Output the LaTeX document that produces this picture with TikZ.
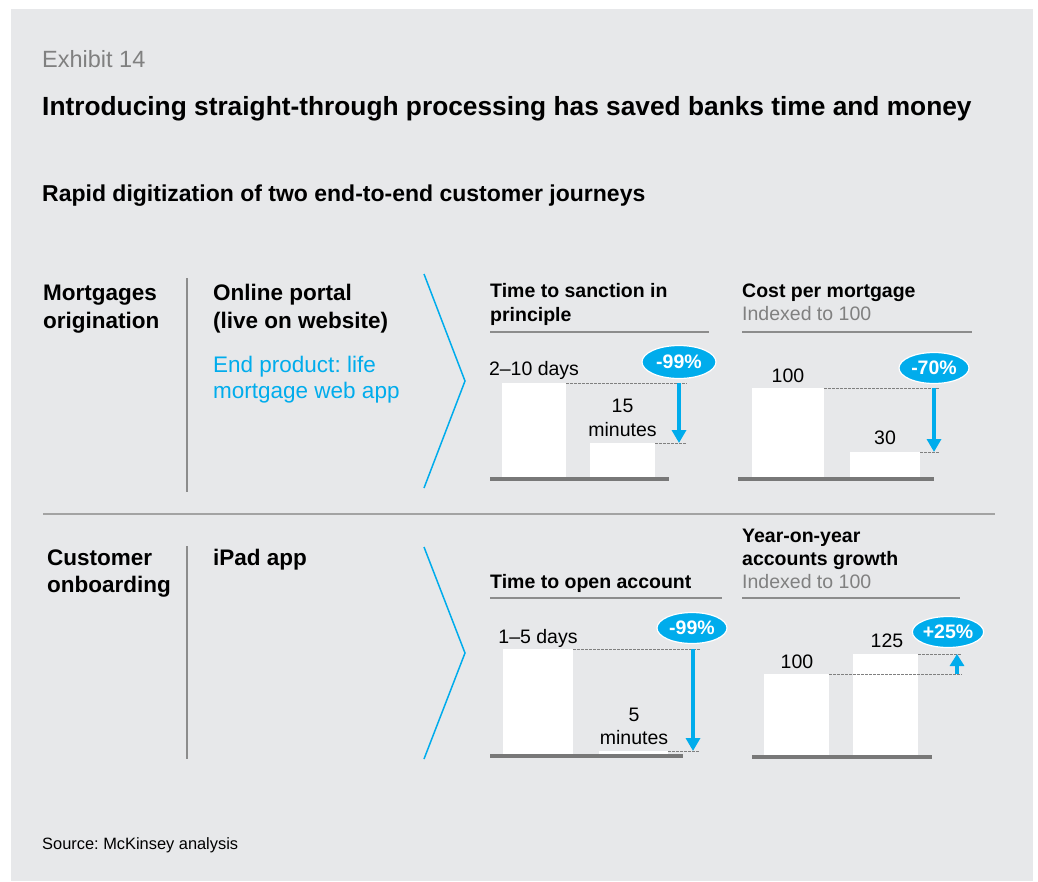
\documentclass[tikz,border=0pt]{standalone}
\usepackage{fontspec}
\setmainfont{Liberation Sans}
\usetikzlibrary{arrows.meta,shapes.geometric}

\definecolor{panelgray}{RGB}{231,232,234}
\definecolor{mckblue}{RGB}{0,172,236}
\definecolor{textgray}{RGB}{128,128,128}
\definecolor{rulegray}{RGB}{140,140,140}
\definecolor{axisgray}{RGB}{120,120,120}

\tikzset{
  txt/.style={anchor=base west, inner sep=0pt, align=left},
  exhibit/.style={txt, text=textgray, font=\fontsize{23.5}{28}\selectfont},
  headline/.style={txt, font=\bfseries\fontsize{26.3}{30}\selectfont},
  subhead/.style={txt, font=\bfseries\fontsize{23}{28}\selectfont},
  rowlabel/.style={txt, font=\bfseries\fontsize{22.5}{28}\selectfont},
  rownote/.style={txt, text=mckblue, font=\fontsize{22.5}{26.5}\selectfont},
  charttitle/.style={txt, font=\bfseries\fontsize{19.5}{24}\selectfont},
  chartnote/.style={txt, text=textgray, font=\fontsize{19.5}{24}\selectfont},
  barlabel/.style={anchor=base, inner sep=0pt, align=center, font=\fontsize{19.5}{24}\selectfont},
  badge/.style={ellipse, fill=mckblue, draw=white, line width=1.2pt, text=white,
    font=\bfseries\fontsize{19.5}{24}\selectfont, minimum width=72pt, minimum height=32pt, inner sep=0pt},
  bar/.style={fill=white},
  axisline/.style={draw=axisgray, line width=3.5pt},
  titlerule/.style={draw=rulegray, line width=1.5pt},
  guide/.style={draw=textgray, line width=0.8pt, dash pattern=on 2.5pt off 1.5pt},
  change/.style={draw=mckblue, line width=3.5pt, -{Triangle[width=14pt,length=13pt]}},
  chevron/.style={draw=mckblue, line width=1.5pt},
}

\begin{document}
\frenchspacing
\begin{tikzpicture}[x=1pt, y=-1pt]
  % Sfondo
  \useasboundingbox (0,0) rectangle (1038,881);
  \fill[panelgray] (11,9) rectangle (1033,881);

  % Titoli
  \node[exhibit] (exhibit) at (42,67) {Exhibit 14};
  \node[headline] (headline) at (42,115) {Introducing straight-through processing has saved banks time and money};
  \node[subhead] (subhead) at (42,201) {Rapid digitization of two end-to-end customer journeys};

  % Riga 1: mutui (base = ultima riga)
  \node[rowlabel] (mortgages) at (43,328) {Mortgages\\origination};
  \node[rowlabel] (portal) at (213,328) {Online portal\\(live on website)};
  \node[rownote] (product) at (213,398.5) {End product: life\\mortgage web app};
  \draw[draw=rulegray, line width=1.2pt] (187,278) -- (187,492);
  \draw[chevron] (424,274) -- (465,381) -- (424,488);

  % Separatore
  \draw[draw=rulegray!80, line width=2pt] (43,514) -- (995,514);

  % Riga 2: onboarding
  \node[rowlabel] (onboarding) at (47,592) {Customer\\[-1pt]onboarding};
  \node[rowlabel] (ipad) at (213,565) {iPad app};
  \draw[draw=rulegray, line width=1.2pt] (187,546) -- (187,759);
  \draw[chevron] (424,547) -- (465,653) -- (424,759);

  % Grafico 1: time to sanction
  \node[charttitle] (sanction) at (490,321) {Time to sanction in\\principle};
  \draw[titlerule] (490,332) -- (709,332);
  \coordinate (SanA) at (566,383);
  \coordinate (SanB) at (655,443);
  \fill[bar] (502,383) rectangle (SanA |- 0,479);
  \fill[bar] (590,443) rectangle (SanB |- 0,479);
  \draw[axisline] (490,479) -- (669,479);
  \node[barlabel] (sanA) at (534,375) {2--10 days};
  \node[barlabel] (sanB) at (622.5,436) {15\\minutes};
  \coordinate (SanTop) at (679,383);
  \coordinate (SanLow) at (679,443);
  \draw[guide] (SanA) -- (687,383);
  \draw[guide] (SanB) -- (687,443);
  \draw[change] (SanTop) -- (SanLow);
  \node[badge, minimum width=74pt, minimum height=33pt] (sanBadge) at (679,362) {-99\%};

  % Grafico 2: cost per mortgage
  \node[charttitle] (cost) at (742,297) {Cost per mortgage};
  \node[chartnote] (costIdx) at (742,320) {Indexed to 100};
  \draw[titlerule] (742,332) -- (972,332);
  \coordinate (CostA) at (824,388);
  \coordinate (CostB) at (920,452);
  \fill[bar] (752,388) rectangle (CostA |- 0,479);
  \fill[bar] (850,452) rectangle (CostB |- 0,479);
  \draw[axisline] (738,479) -- (934,479);
  \node[barlabel] (costA) at (788,382) {100};
  \node[barlabel] (costB) at (885,444) {30};
  \coordinate (CostTop) at (934,388);
  \coordinate (CostLow) at (934,452);
  \draw[guide] (CostA) -- (940,388);
  \draw[guide] (CostB) -- (940,452);
  \draw[change] (CostTop) -- (CostLow);
  \node[badge, minimum width=70pt, minimum height=31pt] (costBadge) at (934,368) {-70\%};

  % Grafico 3: time to open account
  \node[charttitle] (open) at (490,588) {Time to open account};
  \draw[titlerule] (490,598) -- (722,598);
  \coordinate (OpenA) at (573,649);
  \coordinate (OpenB) at (668,751);
  \fill[bar] (503,649) rectangle (OpenA |- 0,756);
  \fill[bar] (599,751) rectangle (OpenB |- 0,756);
  \draw[axisline] (490,756) -- (683,756);
  \node[barlabel] (openA) at (538,643) {1--5 days};
  \node[barlabel] (openB) at (634,744) {5\\[-1pt]minutes};
  \coordinate (OpenTop) at (693,649);
  \coordinate (OpenLow) at (693,751);
  \draw[guide] (OpenA) -- (700,649);
  \draw[guide] (OpenB) -- (700,751);
  \draw[change] (OpenTop) -- (OpenLow);
  \node[badge, minimum width=70pt, minimum height=31pt] (openBadge) at (692,628) {-99\%};

  % Grafico 4: accounts growth
  \node[charttitle] (growth) at (742,565) {Year-on-year\\[-1pt]accounts growth};
  \node[chartnote] (growthIdx) at (742,588) {Indexed to 100};
  \draw[titlerule] (742,598) -- (960,598);
  \coordinate (GrowA) at (829,674);
  \coordinate (GrowB) at (918,654);
  \fill[bar] (764,674) rectangle (GrowA |- 0,757);
  \fill[bar] (853,654) rectangle (GrowB |- 0,757);
  \draw[axisline] (752,757) -- (932,757);
  \node[barlabel] (growA) at (797,668) {100};
  \node[barlabel] (growB) at (887,647) {125};
  \coordinate (GrowLow) at (957,674);
  \coordinate (GrowTop) at (957,654);
  \draw[guide] (GrowA) -- (962,674);
  \draw[guide] (GrowB) -- (962,654);
  \draw[change, -{Triangle[width=14pt,length=12pt]}] (GrowLow) -- (GrowTop);
  \node[badge, minimum width=68pt, minimum height=31pt] (growBadge) at (948,632) {+25\%};

  % Fonte
  \node[txt, font=\fontsize{16.4}{20}\selectfont] (source) at (42,849) {Source: McKinsey analysis};
\end{tikzpicture}
\end{document}
